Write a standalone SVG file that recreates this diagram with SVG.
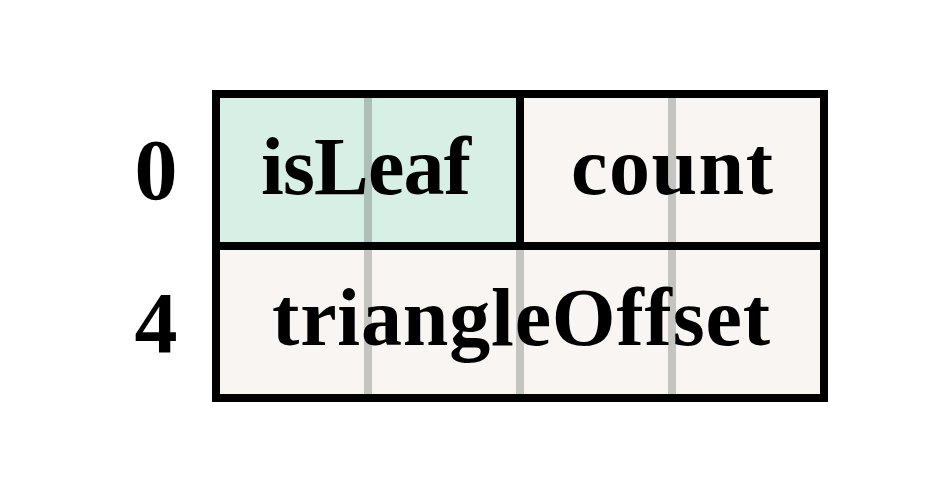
<svg xmlns="http://www.w3.org/2000/svg" width="950" height="492" viewBox="0 0 950 492">
  <style>
    .lbl { font-family: "Liberation Serif", "Times New Roman", serif; font-weight: bold; fill: #000; text-anchor: middle; }
    .field { font-size: 82px; }
    .off { font-size: 86px; }
    .tick { fill: #000; fill-opacity: 0.2; }
    .border { fill: none; stroke: #000; stroke-width: 8; }
  </style>
  <rect x="0" y="0" width="950" height="492" fill="#ffffff"/>
  <g id="offsets">
    <text class="lbl off" x="156" y="199">0</text>
    <text class="lbl off" x="156" y="352">4</text>
  </g>
  <g id="isLeaf">
    <rect x="216" y="94" width="304" height="152" fill="#d8efe6"/>
  </g>
  <g id="count">
    <rect x="520" y="94" width="304" height="152" fill="#f8f5f2"/>
  </g>
  <g id="triangleOffset">
    <rect x="216" y="246" width="608" height="152" fill="#f8f5f2"/>
  </g>
  <g id="byte-ticks">
    <rect class="tick" x="364" y="94" width="8" height="304"/>
    <rect class="tick" x="516" y="94" width="8" height="304"/>
    <rect class="tick" x="668" y="94" width="8" height="304"/>
  </g>
  <g id="connectors">
    <rect class="border" x="216" y="94" width="608" height="304"/>
    <line class="border" x1="216" y1="246" x2="824" y2="246"/>
    <line class="border" x1="520" y1="94" x2="520" y2="246"/>
  </g>
  <g id="labels">
    <text class="lbl field" x="366" y="194" textLength="210" lengthAdjust="spacing">isLeaf</text>
    <text class="lbl field" x="672" y="194" textLength="202" lengthAdjust="spacing">count</text>
    <text class="lbl field" x="521" y="345" textLength="498" lengthAdjust="spacing">triangleOffset</text>
  </g>
</svg>
